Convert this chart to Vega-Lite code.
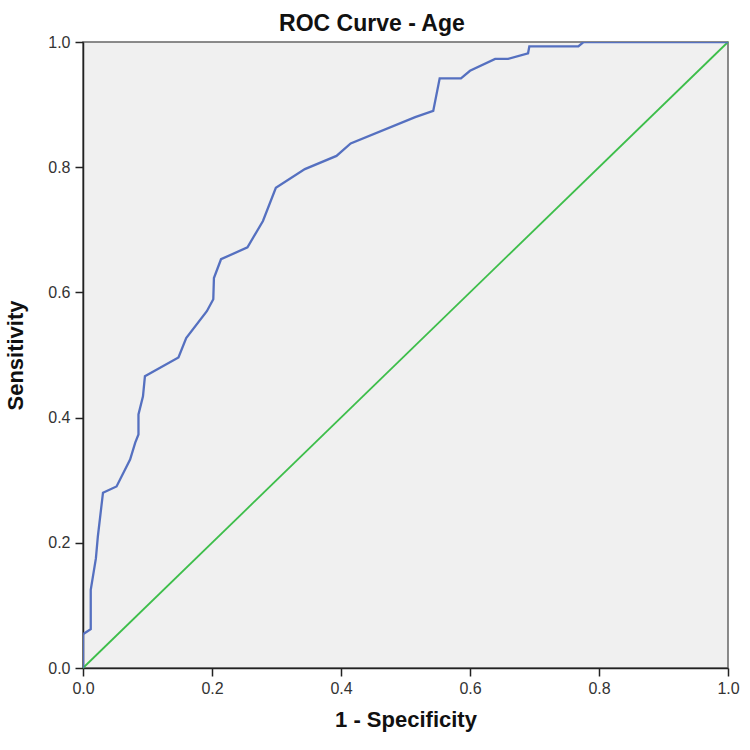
{
  "$schema": "https://vega.github.io/schema/vega-lite/v6.json",
  "autosize": {"type": "none"},
  "width": 645,
  "height": 626,
  "padding": {"left": 83, "top": 42, "right": 22, "bottom": 82},
  "background": "white",
  "config": {
    "view": {"fill": "#F0F0F0", "stroke": "#666666", "strokeWidth": 1.5},
    "font": "Liberation Sans"
  },
  "title": {
    "text": "ROC Curve - Age",
    "fontSize": 23,
    "fontWeight": "bold",
    "font": "Liberation Sans",
    "color": "#111111",
    "anchor": "middle",
    "frame": "bounds",
    "baseline": "alphabetic",
    "offset": -20
  },
  "datasets": {
    "roc": [
      {"fpr": 0.0, "tpr": 0.0},
      {"fpr": 0.0, "tpr": 0.054},
      {"fpr": 0.012, "tpr": 0.062},
      {"fpr": 0.012, "tpr": 0.125},
      {"fpr": 0.020, "tpr": 0.175},
      {"fpr": 0.023, "tpr": 0.21},
      {"fpr": 0.031, "tpr": 0.28},
      {"fpr": 0.052, "tpr": 0.29},
      {"fpr": 0.073, "tpr": 0.333},
      {"fpr": 0.081, "tpr": 0.36},
      {"fpr": 0.086, "tpr": 0.373},
      {"fpr": 0.086, "tpr": 0.405},
      {"fpr": 0.093, "tpr": 0.434},
      {"fpr": 0.096, "tpr": 0.466},
      {"fpr": 0.148, "tpr": 0.496},
      {"fpr": 0.160, "tpr": 0.527},
      {"fpr": 0.192, "tpr": 0.570},
      {"fpr": 0.202, "tpr": 0.589},
      {"fpr": 0.203, "tpr": 0.623},
      {"fpr": 0.214, "tpr": 0.653},
      {"fpr": 0.255, "tpr": 0.672},
      {"fpr": 0.279, "tpr": 0.714},
      {"fpr": 0.299, "tpr": 0.767},
      {"fpr": 0.344, "tpr": 0.797},
      {"fpr": 0.393, "tpr": 0.818},
      {"fpr": 0.415, "tpr": 0.838},
      {"fpr": 0.515, "tpr": 0.880},
      {"fpr": 0.543, "tpr": 0.890},
      {"fpr": 0.553, "tpr": 0.942},
      {"fpr": 0.586, "tpr": 0.942},
      {"fpr": 0.600, "tpr": 0.954},
      {"fpr": 0.639, "tpr": 0.973},
      {"fpr": 0.659, "tpr": 0.973},
      {"fpr": 0.690, "tpr": 0.982},
      {"fpr": 0.692, "tpr": 0.993},
      {"fpr": 0.768, "tpr": 0.993},
      {"fpr": 0.776, "tpr": 1.0},
      {"fpr": 1.0, "tpr": 1.0}
    ],
    "ref": [
      {"fpr": 0.0, "tpr": 0.0},
      {"fpr": 1.0, "tpr": 1.0}
    ]
  },
  "encoding": {
    "x": {
      "field": "fpr",
      "type": "quantitative",
      "scale": {"domain": [0, 1], "nice": false, "zero": false},
      "axis": {
        "title": "1 - Specificity",
        "titleFontSize": 22,
        "titleFontWeight": "bold",
        "titleColor": "#111111",
        "titlePadding": 13,
        "values": [0, 0.2, 0.4, 0.6, 0.8, 1.0],
        "format": ".1f",
        "labelFont": "Liberation Sans",
        "labelFontSize": 16,
        "labelColor": "#333333",
        "labelPadding": 4,
        "labelFlush": false,
        "tickSize": 8,
        "tickColor": "#222222",
        "tickWidth": 1.5,
        "domainColor": "#222222",
        "domainWidth": 1.5,
        "grid": false
      }
    },
    "y": {
      "field": "tpr",
      "type": "quantitative",
      "scale": {"domain": [0, 1], "nice": false, "zero": false},
      "axis": {
        "title": "Sensitivity",
        "titleFontSize": 22,
        "titleFontWeight": "bold",
        "titleColor": "#111111",
        "titlePadding": 20,
        "values": [0, 0.2, 0.4, 0.6, 0.8, 1.0],
        "format": ".1f",
        "labelFont": "Liberation Sans",
        "labelFontSize": 16,
        "labelColor": "#333333",
        "labelPadding": 5,
        "labelFlush": false,
        "tickSize": 8,
        "tickColor": "#222222",
        "tickWidth": 1.5,
        "domainColor": "#222222",
        "domainWidth": 1.5,
        "grid": false
      }
    }
  },
  "layer": [
    {
      "data": {"name": "ref"},
      "mark": {"type": "line", "color": "#3DBE4A", "strokeWidth": 1.8}
    },
    {
      "data": {"name": "roc"},
      "mark": {"type": "line", "color": "#5570C0", "strokeWidth": 2.3, "clip": true}
    }
  ]
}
